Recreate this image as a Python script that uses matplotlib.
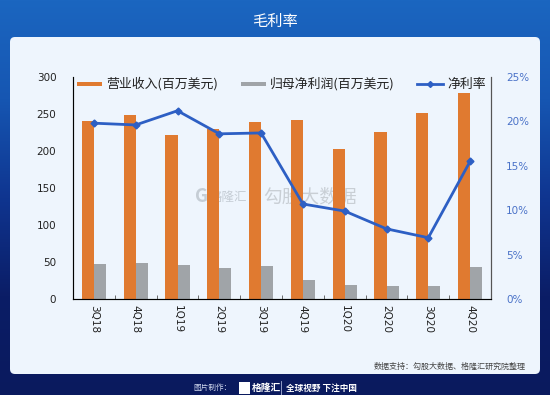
import matplotlib
matplotlib.use("Agg")
import matplotlib.pyplot as plt
import numpy as np
from matplotlib.patches import FancyBboxPatch, Rectangle
from matplotlib.colors import LinearSegmentedColormap

plt.rcParams['font.family'] = ['Noto Sans CJK SC', 'DejaVu Sans']

quarters = ["3Q18", "4Q18", "1Q19", "2Q19", "3Q19", "4Q19", "1Q20", "2Q20", "3Q20", "4Q20"]
revenue = [241, 249, 221, 230, 239, 242, 203, 225, 252, 279]
net_profit = [47, 48, 46, 42, 44, 26, 19, 17, 17, 43]
net_margin = [19.8, 19.6, 21.2, 18.6, 18.7, 10.7, 9.9, 7.9, 6.9, 15.5]

title = "毛利率"
legend_labels = ["营业收入(百万美元)", "归母净利润(百万美元)", "净利率"]
source_text = "数据支持：勾股大数据、格隆汇研究院整理"

C_REV = "#e07a30"
C_NP = "#a0a4a8"
C_LINE = "#2d5fc4"

W, H = 550, 395
fig = plt.figure(figsize=(W / 100, H / 100), dpi=100)

# background gradient
bg = fig.add_axes([0, 0, 1, 1])
bg.set_axis_off()
grad = np.linspace(0, 1, 256).reshape(-1, 1)
cmap = LinearSegmentedColormap.from_list("bgc", ["#1b66c0", "#1656b2", "#0f3590", "#0b1d66", "#0a1a5e"])
bg.imshow(grad, aspect='auto', cmap=cmap, extent=[0, W, H, 0])
bg.set_xlim(0, W)
bg.set_ylim(H, 0)
card = FancyBboxPatch((10, 37), 530, 337, boxstyle="round,pad=0,rounding_size=5",
                      facecolor="#eef5fd", edgecolor="none")
bg.add_patch(card)
bg.text(275, 21, title, color="white", fontsize=11, ha="center", va="center")
bg.text(526, 366, source_text, color="#444444", fontsize=5.8, ha="right", va="center")
bg.text(232, 388, "图片制作：", color="#d0d8ee", fontsize=5.5, ha="right", va="center")
bg.add_patch(Rectangle((239, 382), 11, 12, facecolor="white", edgecolor="none"))
bg.text(252, 388, "格隆汇", color="white", fontsize=7, ha="left", va="center", fontweight="bold")
bg.plot([281, 281], [381, 395], color="#aab4d8", lw=0.6)
bg.text(286, 388, "全球视野 下注中国", color="white", fontsize=6.2, ha="left", va="center", fontweight="bold")
# watermark
bg.text(202, 197, "G", color="#b8c0c8", fontsize=13, ha="center", va="center", fontweight="bold", alpha=0.75)
bg.text(210, 197, "格隆汇", color="#b8c0c8", fontsize=9, ha="left", va="center", alpha=0.75)
bg.plot([258, 258], [186, 208], color="#c8ced4", lw=0.7)
bg.text(263, 197, "勾股大数据", color="#c0c6cc", fontsize=13.5, ha="left", va="center", alpha=0.8)

# legend drawn manually
ly = 84
bg.add_patch(Rectangle((77, ly - 2), 25, 4, facecolor=C_REV, edgecolor="none"))
bg.text(106, ly, legend_labels[0], fontsize=9.3, color="#222222", ha="left", va="center")
bg.add_patch(Rectangle((241, ly - 2), 25, 4, facecolor=C_NP, edgecolor="none"))
bg.text(270, ly, legend_labels[1], fontsize=9.3, color="#222222", ha="left", va="center")
bg.plot([417, 443], [ly, ly], color=C_LINE, lw=2)
bg.plot([430], [ly], color=C_LINE, marker="D", markersize=3)
bg.text(447, ly, legend_labels[2], fontsize=9.3, color="#222222", ha="left", va="center")

# main axes: x 73-491, y 77-299
ax = fig.add_axes([73 / W, 1 - 299 / H, (491 - 73) / W, (299 - 77) / H])
ax.set_facecolor("none")
x = np.arange(len(quarters))
bw = 0.29
ax.bar(x - bw / 2, revenue, width=bw, color=C_REV, zorder=2)
ax.bar(x + bw / 2, net_profit, width=bw, color=C_NP, zorder=2)
ax.set_xlim(-0.5, len(quarters) - 0.5)
ax.set_ylim(0, 300)
ax.set_yticks(range(0, 301, 50))
ax.set_xticks(x)
ax.set_xticklabels(quarters, rotation=-90, fontsize=7.5, color="#222222", fontfamily="DejaVu Sans")
ax.tick_params(axis='x', length=0, pad=4)
ax.set_xticks(np.arange(-0.5, len(quarters), 1), minor=True)
ax.tick_params(axis='x', which='minor', length=3, direction='in', color="#555555")
ax.tick_params(axis='y', length=0, labelsize=7.5, labelcolor="#222222", pad=12)
for lab in ax.get_yticklabels():
    lab.set_fontfamily("DejaVu Sans")
ax.spines["top"].set_visible(False)
for s in ["left", "bottom", "right"]:
    ax.spines[s].set_color("#555555")

ax2 = ax.twinx()
ax2.plot(x, net_margin, color=C_LINE, lw=2, marker="D", markersize=3.5, zorder=3)
ax2.set_ylim(0, 25)
ax2.set_yticks(range(0, 26, 5))
ax2.set_yticklabels([f"{v}%" for v in range(0, 26, 5)], fontfamily="DejaVu Sans")
ax2.tick_params(axis='y', length=0, labelsize=7.5, labelcolor="#4a72c8", pad=11)
ax2.spines["top"].set_visible(False)
ax2.spines["right"].set_color("#555555")

fig.savefig("out.png", dpi=100)
